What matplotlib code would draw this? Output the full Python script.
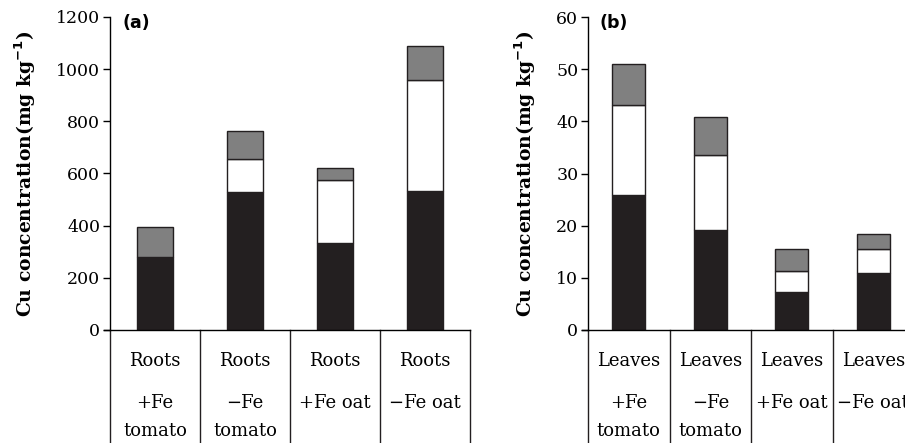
import matplotlib
matplotlib.use('Agg')
import matplotlib.pyplot as plt
import numpy as np

# Cu concentration, stacked fractions (black / white / gray)
root_labels = [['Roots', '+Fe', 'tomato'], ['Roots', '\u2212Fe', 'tomato'],
               ['Roots', '+Fe oat'], ['Roots', '\u2212Fe oat']]
root_black = [278, 530, 332, 534]
root_white = [0, 125, 242, 423]
root_gray = [118, 108, 49, 133]

leaf_labels = [['Leaves', '+Fe', 'tomato'], ['Leaves', '\u2212Fe', 'tomato'],
               ['Leaves', '+Fe oat'], ['Leaves', '\u2212Fe oat']]
leaf_black = [25.9, 19.2, 7.2, 11.0]
leaf_white = [17.3, 14.4, 4.2, 4.5]
leaf_gray = [7.7, 7.3, 4.1, 2.9]

plt.rcParams['font.family'] = ['DejaVu Serif']

fig = plt.figure(figsize=(9.05, 4.43), dpi=100)
W, H = 905.0, 443.0
ax1 = fig.add_axes([110 / W, (H - 330) / H, 360 / W, 313 / H])
ax2 = fig.add_axes([588 / W, (H - 330) / H, 326 / W, 313 / H])


def draw_panel(ax, black, white, gray, labels, ymax, step, tag):
    x = np.arange(len(black))
    black = np.array(black)
    white = np.array(white)
    gray = np.array(gray)
    kw = dict(width=0.41, edgecolor='#231f20', linewidth=1.0)
    ax.bar(x, black, color='#231f20', **kw)
    ax.bar(x, white, bottom=black, color='white', **kw)
    ax.bar(x, gray, bottom=black + white, color='#808080', **kw)
    ax.set_xlim(-0.5, 3.5)
    ax.set_ylim(0, ymax)
    ax.set_yticks(np.arange(0, ymax + step, step))
    ax.set_xticks([])
    for s in ['top', 'right']:
        ax.spines[s].set_visible(False)
    ax.spines['left'].set_linewidth(1.0)
    ax.spines['bottom'].set_linewidth(1.0)
    ax.spines['bottom'].set_bounds(-0.57, 3.5)
    ax.tick_params(axis='y', direction='out', length=5, width=1.0,
                   labelsize=12.5, pad=2)
    ax.set_ylabel('Cu concentration(mg kg$^{\\mathbf{-1}}$)', fontsize=13.5,
                  fontweight='bold', labelpad=13)
    ax.text(0.035, 0.98, tag, transform=ax.transAxes, fontsize=12.5,
            fontweight='bold', family='DejaVu Sans', va='center', ha='left')
    # category boxes under the axis
    for b in np.arange(-0.5, 4.0, 1.0):
        ax.plot([b, b], [0, -0.4], transform=ax.get_xaxis_transform(),
                color='#231f20', lw=1.0, clip_on=False)
    for i, lab in enumerate(labels):
        offs = [-31, -73, -101]
        for j, line in enumerate(lab):
            ax.annotate(line, xy=(i, 0), xycoords=('data', 'axes fraction'),
                        xytext=(0, offs[j]), textcoords='offset pixels',
                        ha='center', va='center', fontsize=13,
                        annotation_clip=False)


draw_panel(ax1, root_black, root_white, root_gray, root_labels, 1200, 200, '(a)')
draw_panel(ax2, leaf_black, leaf_white, leaf_gray, leaf_labels, 60, 10, '(b)')

fig.savefig('out.png', dpi=100, facecolor='white')
